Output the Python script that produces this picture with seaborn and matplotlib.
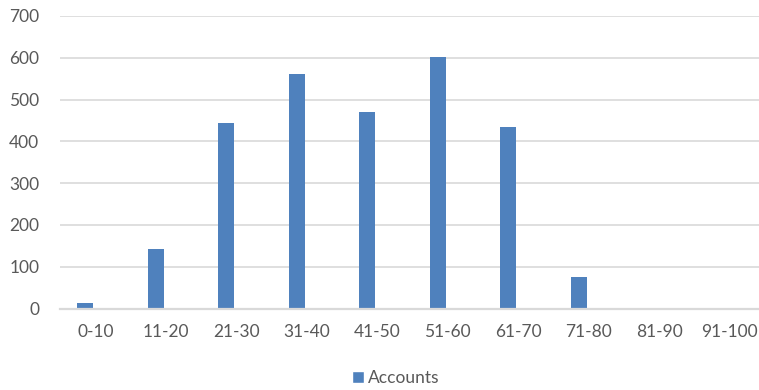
import matplotlib
matplotlib.use("Agg")
import matplotlib.pyplot as plt
from matplotlib.patches import Patch
import pandas as pd
import seaborn as sns

# Number of accounts per score range
categories = ["0-10", "11-20", "21-30", "31-40", "41-50",
              "51-60", "61-70", "71-80", "81-90", "91-100"]
accounts = [12, 143, 444, 562, 470, 601, 435, 75, 2, 0]
series_name = "Accounts"

BAR_COLOR = "#4f81bd"
GRID_COLOR = "#d9d9d9"
TEXT_COLOR = "#595959"

sns.set_theme(style="white")
plt.rcParams["font.family"] = ["Lato", "DejaVu Sans"]

W, H = 759, 390
fig = plt.figure(figsize=(W / 100, H / 100), dpi=100)
# Plot area runs slightly past the right edge of the canvas
ax = fig.add_axes([60 / W, 81.5 / H, 705 / W, 292.5 / H])

df = pd.DataFrame({"Range": categories, series_name: accounts})
sns.barplot(data=df, x="Range", y=series_name, color=BAR_COLOR,
            saturation=1, width=16 / 70.5, ax=ax)

# Columns sit a little left of each category centre
for p in ax.patches:
    p.set_x(p.get_x() - 10 / 70.5)
    p.set_linewidth(0)

ax.set_xlim(-0.5, len(categories) - 0.5)
ax.set_ylim(0, 700)
ax.set_yticks(range(0, 701, 100))
ax.yaxis.grid(True, color=GRID_COLOR, linewidth=1.2)
ax.set_axisbelow(True)
for side in ["top", "right", "left"]:
    ax.spines[side].set_visible(False)
ax.spines["bottom"].set_color(GRID_COLOR)
ax.spines["bottom"].set_linewidth(1.6)

ax.tick_params(axis="both", length=0, labelsize=12.5, colors=TEXT_COLOR)
ax.tick_params(axis="x", pad=11)
ax.tick_params(axis="y", pad=15)
ax.set_xlabel("")
ax.set_ylabel("")

fig.legend(handles=[Patch(facecolor=BAR_COLOR, label=series_name)],
           loc="center", bbox_to_anchor=(396 / W, 1 - 378 / H),
           frameon=False, fontsize=12.5, handlelength=0.65, handleheight=0.65,
           handletextpad=0.25, labelcolor=TEXT_COLOR)

fig.savefig("out.png", dpi=100)
